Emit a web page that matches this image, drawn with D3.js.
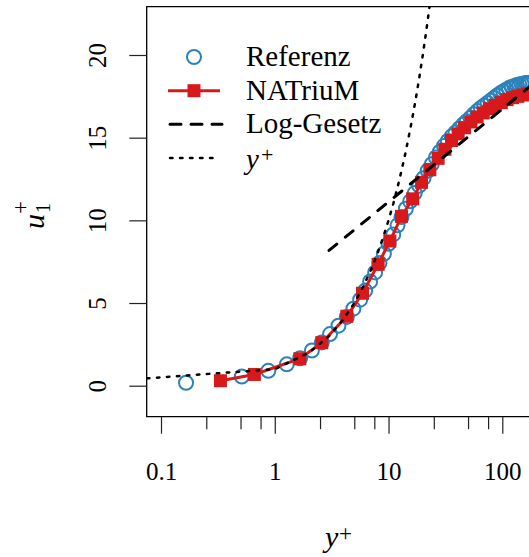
<!DOCTYPE html>
<html>
<head>
<meta charset="utf-8">
<script src="https://cdn.jsdelivr.net/npm/d3@7"></script>
<style>
  html, body { margin: 0; padding: 0; background: #fff; }
  svg { display: block; }
  text { font-family: "Liberation Serif", "Times New Roman", serif; fill: #000; }
</style>
</head>
<body>
<svg id="chart" width="529" height="557"></svg>
<script>
// ---- data ----
const refYplus = [0.166, 0.513, 0.878, 1.275, 1.67, 2.12, 2.59, 3.06, 3.63, 4.30, 4.91, 5.63, 6.23, 6.89, 7.62, 8.32, 9.1, 10.0, 11.0, 12.0, 13.0, 14.2, 15.5, 17.0, 18.6, 20.3, 22.1, 24.0, 26.1, 28.3, 30.7, 33.2, 35.9, 38.8, 41.9, 45.2, 48.7, 52.4, 56.3, 60.4, 64.8, 69.4, 74.2, 79.3, 84.6, 90.1, 95.9, 101.9, 108.1, 114.5, 121, 127.6, 134.3, 141, 147.8, 154.6, 161.4, 168.2, 175];
const refU     = [0.18, 0.55, 0.9, 1.29, 1.66, 2.13, 2.62, 3.12, 3.63, 4.16, 4.66, 5.2, 5.75, 6.3, 6.85, 7.42, 7.98, 8.58, 9.15, 9.7, 10.2, 10.7, 11.15, 11.65, 12.1, 12.55, 13.0, 13.4, 13.8, 14.15, 14.5, 14.8, 15.08, 15.32, 15.56, 15.79, 16.0, 16.2, 16.42, 16.62, 16.8, 16.95, 17.1, 17.25, 17.4, 17.55, 17.68, 17.8, 17.9, 18.0, 18.07, 18.13, 18.18, 18.22, 18.25, 18.28, 18.3, 18.31, 18.32];

const natYplus = [0.333, 0.662, 1.66, 2.59, 4.30, 5.91, 8.10, 10.27, 13.0, 16.3, 19.5, 23.07, 27.3, 31.3, 35.8, 40.9, 46.5, 53, 60, 68, 77, 87, 98, 110, 123, 137, 152, 167, 180];
const natU     = [0.3, 0.68, 1.63, 2.6, 4.2, 5.59, 7.34, 8.75, 10.24, 11.3, 12.3, 13.06, 13.75, 14.3, 14.83, 15.23, 15.6, 15.95, 16.25, 16.5, 16.75, 16.95, 17.12, 17.3, 17.42, 17.5, 17.58, 17.64, 17.67];

const lawYplus = [3, 180];
const lawU     = [8.18, 18.17];

const linYplus = [0.01, 1, 2, 3, 4, 5, 6, 7, 8, 9, 10, 11, 12, 13, 14, 15, 16, 17, 18, 19, 20, 21, 22, 23, 24, 25];
const linU     = [0.01, 1, 2, 3, 4, 5, 6, 7, 8, 9, 10, 11, 12, 13, 14, 15, 16, 17, 18, 19, 20, 21, 22, 23, 24, 25];

const xMajorTicks = [0.1, 1, 10, 100];
const xMinorTicks = [0.25, 0.5, 0.75, 2.5, 5, 7.5, 25, 50, 75];
const yTicks = [0, 5, 10, 15, 20];

const legendLabels = ["Referenz", "NATriuM", "Log-Gesetz"];

const blue = "#2b83ba", red = "#d7191c";

// ---- layout ----
const box = {left: 146.7, top: 6.7, bottom: 416.7, right: 560};
const svg = d3.select("#chart");
const x = d3.scaleLog().domain([0.1, 100]).range([161, 502.3]);
const y = d3.scaleLinear().domain([0, 20]).range([385.7, 55]);

svg.append("defs").append("clipPath").attr("id", "clip")
  .append("rect").attr("x", box.left).attr("y", box.top)
  .attr("width", box.right - box.left).attr("height", box.bottom - box.top);

const plot = svg.append("g").attr("clip-path", "url(#clip)");

const refData = refYplus.map((d, i) => [d, refU[i]]);
const natData = natYplus.map((d, i) => [d, natU[i]]);
const lawData = lawYplus.map((d, i) => [d, lawU[i]]);
const linData = linYplus.map((d, i) => [d, linU[i]]);
const line = d3.line().x(d => x(d[0])).y(d => y(d[1]));

// reference circles
plot.selectAll("circle.ref").data(refData).join("circle")
  .attr("class", "ref")
  .attr("cx", d => x(d[0])).attr("cy", d => y(d[1])).attr("r", 7)
  .attr("fill", "none").attr("stroke", blue).attr("stroke-width", 2);

// NATriuM line + squares
plot.append("path").datum(natData).attr("d", line)
  .attr("fill", "none").attr("stroke", red).attr("stroke-width", 3);
const sq = 13;
plot.selectAll("rect.nat").data(natData).join("rect")
  .attr("class", "nat")
  .attr("x", d => x(d[0]) - sq / 2).attr("y", d => y(d[1]) - sq / 2)
  .attr("width", sq).attr("height", sq).attr("fill", red);

// log law
plot.append("path").datum(lawData).attr("d", line)
  .attr("fill", "none").attr("stroke", "#000").attr("stroke-width", 3)
  .attr("stroke-dasharray", "10,11").attr("stroke-linecap", "round");

// u+ = y+
plot.append("path").datum(linData).attr("d", line)
  .attr("fill", "none").attr("stroke", "#000").attr("stroke-width", 2.5)
  .attr("stroke-dasharray", "2.5,7.5").attr("stroke-linecap", "round");

// frame (right edge outside the picture)
svg.append("path")
  .attr("d", `M${box.right},${box.top}H${box.left}V${box.bottom}H${box.right}`)
  .attr("fill", "none").attr("stroke", "#000").attr("stroke-width", 1.3);

// x axis
const gxMaj = svg.append("g").attr("transform", `translate(0,${box.bottom})`)
  .call(d3.axisBottom(x).tickValues(xMajorTicks).tickSize(17).tickSizeOuter(0)
        .tickFormat(d => String(d)));
const gxMin = svg.append("g").attr("transform", `translate(0,${box.bottom})`)
  .call(d3.axisBottom(x).tickValues(xMinorTicks).tickSize(12.5).tickSizeOuter(0)
        .tickFormat(""));
[gxMaj, gxMin].forEach(g => {
  g.select(".domain").remove();
  g.selectAll("line").attr("stroke", "#222").attr("stroke-width", 1.2);
});
gxMaj.selectAll("text")
  .attr("y", 480 - box.bottom).attr("dy", null)
  .attr("font-size", 25).attr("font-family", "Liberation Serif").attr("fill", "#000");

// y axis
const gy = svg.append("g").attr("transform", `translate(${box.left},0)`)
  .call(d3.axisLeft(y).tickValues(yTicks).tickSize(17.4).tickSizeOuter(0)
        .tickFormat(d => String(d)));
gy.select(".domain").remove();
gy.selectAll("line").attr("stroke", "#222").attr("stroke-width", 1.2);
gy.selectAll("text")
  .attr("x", null).attr("y", null).attr("dy", null)
  .attr("text-anchor", "middle")
  .attr("transform", `translate(${106 - box.left},0) rotate(-90)`)
  .attr("font-size", 25).attr("font-family", "Liberation Serif").attr("fill", "#000");

// axis titles
const xt = svg.append("g");
xt.append("text").attr("x", 325).attr("y", 547).attr("font-size", 30)
  .attr("font-style", "italic").text("y");
xt.append("text").attr("x", 339).attr("y", 541).attr("font-size", 23).text("+");

const yt = svg.append("g").attr("transform", "translate(44,216) rotate(-90)");
yt.append("text").attr("x", -13).attr("y", 0).attr("font-size", 30)
  .attr("font-style", "italic").text("u");
yt.append("text").attr("x", 2).attr("y", -16).attr("font-size", 23).text("+");
yt.append("text").attr("x", 3).attr("y", 6).attr("font-size", 20).text("1");

// legend
const lg = svg.append("g");
const rowY = [57, 90.7, 124.3, 158];
lg.append("circle").attr("cx", 194).attr("cy", rowY[0]).attr("r", 7)
  .attr("fill", "none").attr("stroke", blue).attr("stroke-width", 2);
lg.append("line").attr("x1", 168).attr("x2", 220).attr("y1", rowY[1]).attr("y2", rowY[1])
  .attr("stroke", red).attr("stroke-width", 3);
lg.append("rect").attr("x", 194 - sq / 2).attr("y", rowY[1] - sq / 2)
  .attr("width", sq).attr("height", sq).attr("fill", red);
lg.append("line").attr("x1", 170).attr("x2", 222).attr("y1", rowY[2]).attr("y2", rowY[2])
  .attr("stroke", "#000").attr("stroke-width", 3)
  .attr("stroke-dasharray", "11,10").attr("stroke-linecap", "round");
lg.append("line").attr("x1", 170).attr("x2", 220).attr("y1", rowY[3]).attr("y2", rowY[3])
  .attr("stroke", "#000").attr("stroke-width", 2.5)
  .attr("stroke-dasharray", "2.5,7.5").attr("stroke-linecap", "round");
legendLabels.forEach((t, i) => {
  lg.append("text").attr("x", 246).attr("y", rowY[i] + 9).attr("font-size", 29).text(t);
});
lg.append("text").attr("x", 246).attr("y", rowY[3] + 10.5).attr("font-size", 29)
  .attr("font-style", "italic").text("y");
lg.append("text").attr("x", 261).attr("y", rowY[3] + 4).attr("font-size", 22).text("+");
</script>
</body>
</html>
